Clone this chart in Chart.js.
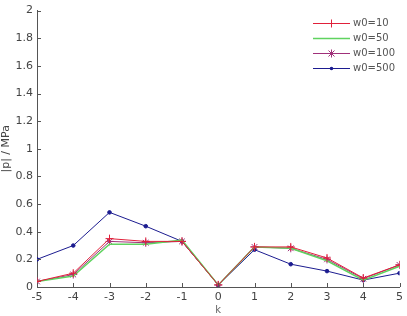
<!DOCTYPE html>
<html>
<head>
<meta charset="utf-8">
<script src="https://cdn.jsdelivr.net/npm/chart.js@4"></script>
<style>
  html, body { margin: 0; padding: 0; background: #fff; }
  #wrap { width: 407px; height: 316px; }
</style>
</head>
<body>
<div id="wrap"><canvas id="pChart" width="407" height="316"></canvas></div>
<script>
// 데이터
const kValues = [-5, -4, -3, -2, -1, 0, 1, 2, 3, 4, 5];
const seriesNames = ["w0=10", "w0=50", "w0=100", "w0=500"];
const w10 = [0.04, 0.10, 0.35, 0.33, 0.33, 0.015, 0.29, 0.29, 0.21, 0.065, 0.16];
const w50 = [0.04, 0.08, 0.31, 0.31, 0.34, 0.015, 0.29, 0.28, 0.19, 0.05, 0.15];
const w100 = [0.04, 0.09, 0.33, 0.32, 0.33, 0.015, 0.29, 0.28, 0.20, 0.06, 0.16];
const w500 = [0.20, 0.30, 0.54, 0.44, 0.33, 0.015, 0.27, 0.165, 0.115, 0.05, 0.10];
const yTicks = [0, 0.2, 0.4, 0.6, 0.8, 1, 1.2, 1.4, 1.6, 1.8, 2];

const toPoints = (ys) => kValues.map((k, i) => ({ x: k, y: ys[i] }));

const styles = [
  { color: "#e0203a", point: "cross", radius: 4 },
  { color: "#5fd35f", point: "circle", radius: 0 },
  { color: "#a0307a", point: "star", radius: 4 },
  { color: "#1c1c90", point: "circle", radius: 1.8 },
];
const allSeries = [w10, w50, w100, w500];

// 안쪽 눈금 + 범례
const matlabPlugin = {
  id: "matlab",
  afterDraw(chart) {
    const { ctx, chartArea, scales } = chart;
    ctx.save();
    ctx.strokeStyle = "#555";
    ctx.lineWidth = 1;
    yTicks.forEach((v) => {
      const y = Math.round(scales.y.getPixelForValue(v)) + 0.5;
      ctx.beginPath();
      ctx.moveTo(chartArea.left, y);
      ctx.lineTo(chartArea.left + 4, y);
      ctx.stroke();
    });
    kValues.forEach((v) => {
      const x = Math.round(scales.x.getPixelForValue(v)) + 0.5;
      ctx.beginPath();
      ctx.moveTo(x, chartArea.bottom);
      ctx.lineTo(x, chartArea.bottom - 4);
      ctx.stroke();
    });

    // 범례
    const lx0 = 313, lx1 = 350, tx = 353;
    const rows = [23, 38, 53, 68];
    ctx.font = "10px 'DejaVu Sans', sans-serif";
    ctx.textBaseline = "middle";
    seriesNames.forEach((name, i) => {
      const y = rows[i] + 0.5;
      const st = styles[i];
      ctx.strokeStyle = st.color;
      ctx.lineWidth = i === 1 ? 1.5 : 1;
      ctx.beginPath();
      ctx.moveTo(lx0, y);
      ctx.lineTo(lx1, y);
      ctx.stroke();
      const cx = (lx0 + lx1) / 2;
      if (st.radius > 0) {
        ctx.fillStyle = st.color;
        if (st.point === "circle") {
          ctx.beginPath();
          ctx.arc(cx, y, st.radius, 0, Math.PI * 2);
          ctx.fill();
        } else {
          ctx.beginPath();
          ctx.moveTo(cx - 4, y); ctx.lineTo(cx + 4, y);
          ctx.moveTo(cx, y - 4); ctx.lineTo(cx, y + 4);
          if (st.point === "star") {
            ctx.moveTo(cx - 3, y - 3); ctx.lineTo(cx + 3, y + 3);
            ctx.moveTo(cx - 3, y + 3); ctx.lineTo(cx + 3, y - 3);
          }
          ctx.stroke();
        }
      }
      ctx.fillStyle = "#555";
      ctx.fillText(name, tx, y);
    });
    ctx.restore();
  },
};

const ctx = document.getElementById("pChart").getContext("2d");
new Chart(ctx, {
  type: "line",
  data: {
    datasets: allSeries.map((ys, i) => ({
      label: seriesNames[i],
      data: toPoints(ys),
      borderColor: styles[i].color,
      backgroundColor: styles[i].color,
      borderWidth: i === 1 ? 1.5 : 1,
      pointStyle: styles[i].point,
      pointRadius: styles[i].radius,
      pointBorderWidth: 1,
      tension: 0,
      fill: false,
    })),
  },
  plugins: [matlabPlugin],
  options: {
    responsive: false,
    animation: false,
    layout: {
      autoPadding: false,
      padding: { left: 0, right: 3, top: 5, bottom: 0 },
    },
    plugins: {
      legend: { display: false },
      tooltip: { enabled: false },
      title: { display: false },
    },
    scales: {
      x: {
        type: "linear",
        min: -5,
        max: 5,
        afterFit: (s) => { s.height = 29; },
        afterBuildTicks: (s) => { s.ticks = kValues.map((v) => ({ value: v })); },
        grid: { display: false, drawTicks: false },
        border: { display: true, color: "#555", width: 1 },
        ticks: {
          padding: 4,
          color: "#444",
          font: { family: "'DejaVu Sans', sans-serif", size: 11 },
          maxRotation: 0,
          autoSkip: false,
        },
        title: {
          display: true,
          text: "k",
          color: "#666",
          padding: 0,
          font: { family: "'DejaVu Sans', sans-serif", size: 10 },
        },
      },
      y: {
        min: 0,
        max: 2,
        afterFit: (s) => { s.width = 37; },
        afterBuildTicks: (s) => { s.ticks = yTicks.map((v) => ({ value: v })); },
        grid: { display: false, drawTicks: false },
        border: { display: true, color: "#555", width: 1 },
        ticks: {
          padding: 4,
          color: "#444",
          font: { family: "'DejaVu Sans', sans-serif", size: 11 },
          callback: (v) => String(Math.round(v * 10) / 10),
        },
        title: {
          display: true,
          text: "|p| / MPa",
          color: "#444",
          padding: 0,
          font: { family: "'DejaVu Sans', sans-serif", size: 11 },
        },
      },
    },
  },
});
</script>
</body>
</html>
